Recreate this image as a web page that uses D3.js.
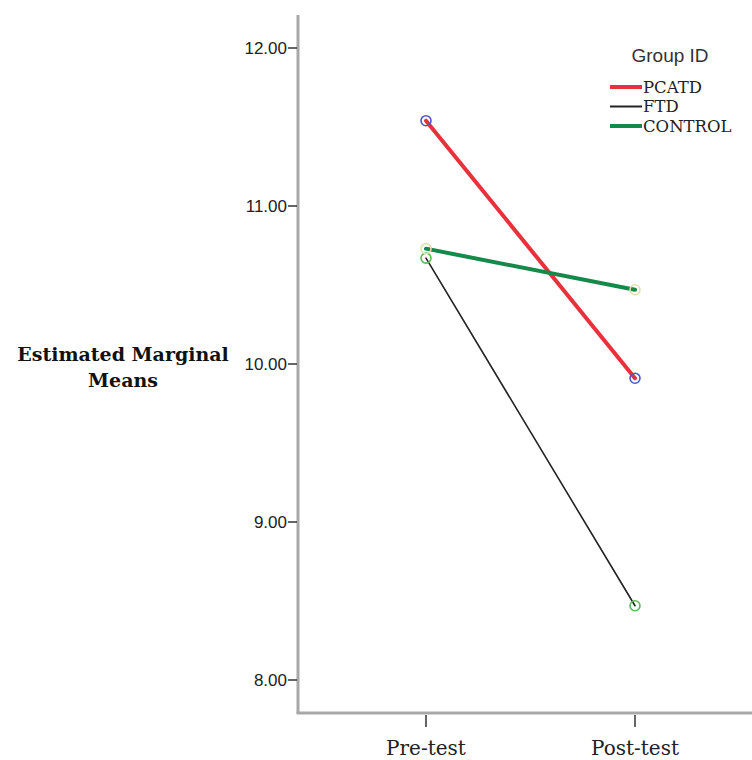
<!DOCTYPE html>
<html>
<head>
<meta charset="utf-8">
<script src="https://cdn.jsdelivr.net/npm/d3@7"></script>
<style>
  body { margin: 0; background: #fff; }
</style>
</head>
<body>
<div id="chart"></div>
<script>
// Data.
const times = ["Pre-test", "Post-test"];
const groups = ["PCATD", "FTD", "CONTROL"];
const pcatd = [11.54, 9.91];
const ftd = [10.67, 8.47];
const control = [10.73, 10.47];
const yTicks = [8, 9, 10, 11, 12];

const width = 752, height = 760;

// Group styles.
const styles = {
  PCATD:   { stroke: "#e8313b", width: 4,   marker: "#4a5cc4" },
  FTD:     { stroke: "#222222", width: 1.6, marker: "#5cb85c" },
  CONTROL: { stroke: "#14894a", width: 4,   marker: "#e2dfae" }
};

const series = [
  { name: "PCATD", values: pcatd },
  { name: "FTD", values: ftd },
  { name: "CONTROL", values: control }
];

const svg = d3.select("#chart").append("svg")
  .attr("width", width)
  .attr("height", height);

// Scales.
const x = d3.scalePoint().domain(times).range([426, 635]);
const y = d3.scaleLinear().domain([8, 12]).range([680, 48]);

const axisX = 298, axisY = 713, axisTop = 15;

// Y axis line.
svg.append("line")
  .attr("x1", axisX).attr("x2", axisX)
  .attr("y1", axisTop).attr("y2", axisY)
  .attr("stroke", "#a8a8a8").attr("stroke-width", 3);

// X axis line.
svg.append("line")
  .attr("x1", axisX - 1.5).attr("x2", width)
  .attr("y1", axisY).attr("y2", axisY)
  .attr("stroke", "#a8a8a8").attr("stroke-width", 3);

// Y ticks.
const yt = svg.append("g");
yt.selectAll("line")
  .data(yTicks)
  .join("line")
    .attr("x1", axisX - 10).attr("x2", axisX - 1)
    .attr("y1", d => y(d)).attr("y2", d => y(d))
    .attr("stroke", "#333").attr("stroke-width", 1.5);
yt.selectAll("text")
  .data(yTicks)
  .join("text")
    .attr("x", axisX - 11)
    .attr("y", d => y(d))
    .attr("dy", "0.35em")
    .attr("text-anchor", "end")
    .attr("font-family", "Liberation Sans, Arial, sans-serif")
    .attr("font-size", 17)
    .attr("fill", "#222")
    .text(d => d3.format(".2f")(d));

// X ticks.
const xt = svg.append("g");
xt.selectAll("line")
  .data(times)
  .join("line")
    .attr("x1", d => x(d)).attr("x2", d => x(d))
    .attr("y1", axisY + 2).attr("y2", axisY + 14)
    .attr("stroke", "#333").attr("stroke-width", 1.5);
xt.selectAll("text")
  .data(times)
  .join("text")
    .attr("x", d => x(d))
    .attr("y", 755)
    .attr("text-anchor", "middle")
    .attr("font-family", "DejaVu Serif, serif")
    .attr("font-size", 20)
    .attr("fill", "#222")
    .text(d => d);

// Y axis title.
svg.append("text")
  .attr("x", 123)
  .attr("y", 361)
  .attr("text-anchor", "middle")
  .attr("font-family", "DejaVu Serif, serif")
  .attr("font-weight", "bold")
  .attr("font-size", 19)
  .attr("fill", "#111")
  .call(t => t.selectAll("tspan")
    .data(["Estimated Marginal", "Means"])
    .join("tspan")
      .attr("x", 123)
      .attr("dy", (_, i) => i ? "1.35em" : 0)
      .text(d => d));

// Lines.
const line = d3.line()
  .x((d, i) => x(times[i]))
  .y(d => y(d));

svg.append("g")
  .selectAll("path")
  .data(series)
  .join("path")
    .attr("fill", "none")
    .attr("stroke", d => styles[d.name].stroke)
    .attr("stroke-width", d => styles[d.name].width)
    .attr("stroke-linecap", "round")
    .attr("d", d => line(d.values));

// Markers.
series.forEach(s => {
  svg.append("g")
    .selectAll("circle")
    .data(s.values)
    .join("circle")
      .attr("cx", (d, i) => x(times[i]))
      .attr("cy", d => y(d))
      .attr("r", 5)
      .attr("fill", "none")
      .attr("stroke", styles[s.name].marker)
      .attr("stroke-width", 1.6);
});

// Legend.
const legend = svg.append("g");
legend.append("text")
  .attr("x", 670).attr("y", 62)
  .attr("text-anchor", "middle")
  .attr("font-family", "Liberation Sans, Arial, sans-serif")
  .attr("font-size", 19)
  .attr("fill", "#333")
  .text("Group ID");

const items = legend.selectAll("g")
  .data(groups)
  .join("g")
    .attr("transform", (d, i) => `translate(610,${87 + i * 19.5})`);
items.append("line")
  .attr("x1", 0).attr("x2", 32)
  .attr("stroke", d => styles[d].stroke)
  .attr("stroke-width", d => d === "FTD" ? 2 : 4);
items.append("text")
  .attr("x", 33)
  .attr("dy", "0.35em")
  .attr("font-family", "DejaVu Serif, serif")
  .attr("font-size", 16.5)
  .attr("fill", "#222")
  .text(d => d);
</script>
</body>
</html>
